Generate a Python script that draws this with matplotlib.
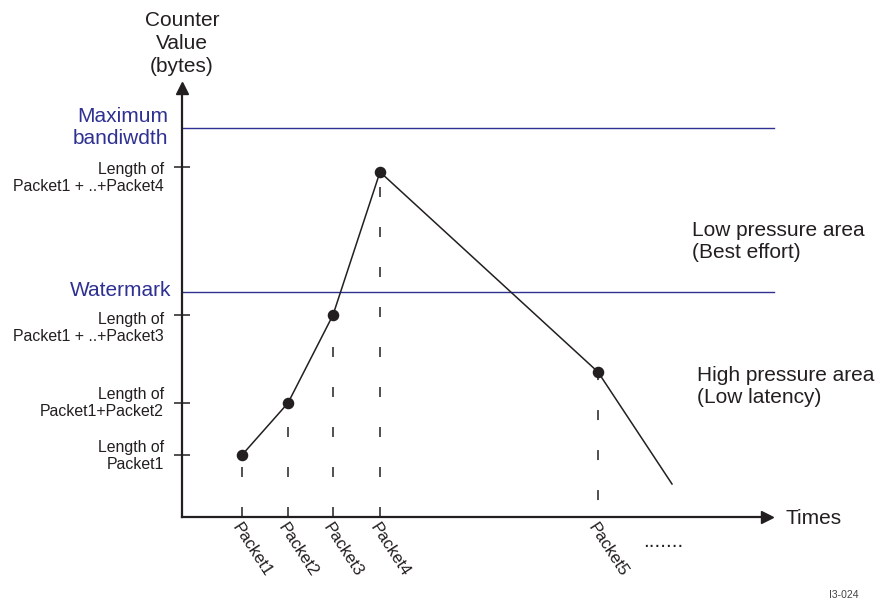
import matplotlib
matplotlib.use("Agg")
import matplotlib.pyplot as plt
from matplotlib.transforms import ScaledTranslation

plt.rcParams['font.family'] = ['Liberation Sans', 'DejaVu Sans']
plt.rcParams['lines.scale_dashes'] = False

# ---- data (time units / counter units) ----
packet_names = ["Packet1", "Packet2", "Packet3", "Packet4", "Packet5"]
packet_times = [60, 106, 151, 198, 416]
counter_values = [62, 114, 202, 345, 145]
tail_time = 490
tail_value = 33
max_bandwidth = 389
watermark = 225
ytick_values = [62, 114, 202, 350]
ytick_labels = ["Length of\nPacket1",
                "Length of\nPacket1+Packet2",
                "Length of\nPacket1 + ..+Packet3",
                "Length of\nPacket1 + ..+Packet4"]

INK = '#231F20'
BLUE = '#2E3192'
W, H = 881, 602

fig = plt.figure(figsize=(W / 100, H / 100), dpi=100)
fig.patch.set_facecolor('white')
ax = fig.add_axes([182 / W, (H - 517) / H, (767 - 182) / W, (517 - 88) / H])
ax.set_xlim(0, 585)
ax.set_ylim(0, 429)

for s in ('top', 'right'):
    ax.spines[s].set_visible(False)
for s in ('left', 'bottom'):
    ax.spines[s].set_linewidth(1.6)
    ax.spines[s].set_color(INK)

# arrow heads
ax.plot(1, 0, '>', ms=8.6, color=INK, transform=ax.transAxes, clip_on=False)
ax.plot(0, 1, '^', ms=8.6, color=INK, transform=ax.transAxes, clip_on=False)

# blue threshold lines
ax.axhline(max_bandwidth, xmin=0, xmax=1.012, color=BLUE, lw=1.0, clip_on=False)
ax.axhline(watermark, xmin=0, xmax=1.012, color=BLUE, lw=1.0, clip_on=False)

# dashed drop lines from axis up to each point
dash_offsets = [0, 0, 0, 0, 16.6]
for t, v, off in zip(packet_times, counter_values, dash_offsets):
    ax.plot([t, t], [0, v], color=INK, lw=1.1,
            linestyle=(off, (7.2, 21.6)), solid_capstyle='butt',
            dash_capstyle='butt', zorder=2)

# counter polyline
xs = packet_times + [tail_time]
ys = counter_values + [tail_value]
ax.plot(xs, ys, color=INK, lw=1.1, zorder=3)
ax.plot(packet_times, counter_values, 'o', color=INK, ms=7.3, zorder=4)

# y ticks
ax.set_yticks(ytick_values)
ax.tick_params(axis='y', direction='inout', length=11.8, width=1.1,
               color=INK, labelleft=False)
yoffs = [1, 0, 13, 11]
for v, lab, dy in zip(ytick_values, ytick_labels, yoffs):
    tr = ax.get_yaxis_transform() + ScaledTranslation(-18 / 100, -dy / 100, fig.dpi_scale_trans)
    ax.text(0, v, lab, transform=tr, ha='right', va='center', fontsize=11.4,
            color=INK, multialignment='right')

# x ticks (packet labels)
ax.set_xticks(packet_times, labels=packet_names, rotation=-57, ha='left',
              va='top', rotation_mode='anchor', fontsize=12, color=INK)
ax.tick_params(axis='x', length=0, pad=2.5)

def ft(x, y):
    return x / W, 1 - y / H

fig.text(*ft(182, 11), "Counter\nValue\n(bytes)", ha='center', va='top',
         fontsize=15, color=INK, multialignment='center', linespacing=1.25)
fig.text(*ft(168, 107), "Maximum\nbandiwdth", ha='right', va='top',
         fontsize=15, color=BLUE, multialignment='right')
fig.text(*ft(171, 281), "Watermark", ha='right', va='top', fontsize=15, color=BLUE)
fig.text(*ft(692, 221), "Low pressure area\n(Best effort)", ha='left', va='top',
         fontsize=15, color=INK)
fig.text(*ft(697, 366), "High pressure area\n(Low latency)", ha='left', va='top',
         fontsize=15, color=INK)
fig.text(*ft(785, 509), "Times", ha='left', va='top', fontsize=15, color=INK)
fig.text(*ft(643, 547), ".......", ha='left', va='baseline', fontsize=15, color=INK)
fig.text(*ft(829, 590), "I3-024", ha='left', va='top', fontsize=7.5, color='#444444')

fig.savefig("out.png", dpi=100, facecolor='white')
